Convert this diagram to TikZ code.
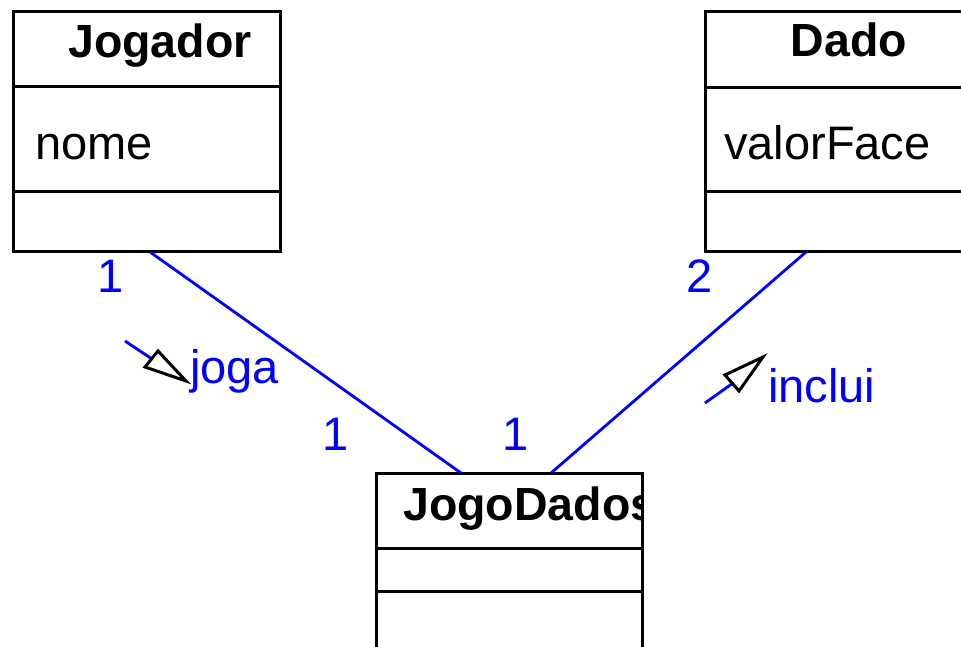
\documentclass[tikz,border=0pt]{standalone}
\usepackage{fontspec}
\setmainfont{Liberation Sans}
\begin{document}
\begin{tikzpicture}[x=1pt,y=-1pt,
  boxline/.style={line width=3pt,black},
  assoc/.style={line width=2.8pt,blue},
  tri/.style={line width=3pt,black,line join=miter,fill=white},
  txt/.style={inner sep=0pt,anchor=base west,font=\fontsize{47}{56}\selectfont},
  btxt/.style={inner sep=0pt,anchor=base,font=\fontsize{46.5}{56}\selectfont\bfseries},
  lbl/.style={txt,text=blue}]
\useasboundingbox (0,0) rectangle (961,647);
\fill[white] (0,0) rectangle (961,647);
% Jogador
\draw[boxline] (13,12) rectangle (280,251);
\draw[boxline] (13,87) -- (280,87);
\draw[boxline] (13,192) -- (280,192);
\node[btxt] (jogT) at (160,58) {Jogador};
\node[txt] (jogA) at (35,160) {nome};
% Dado
\draw[boxline] (965,12) -- (705,12) -- (705,251) -- (965,251);
\draw[boxline] (705,88) -- (965,88);
\draw[boxline] (705,192) -- (965,192);
\node[btxt] (dadoT) at (849,57) {Dado};
\node[txt] (dadoA) at (724,160) {valorFace};
% JogoDados
\draw[boxline] (376,660) -- (376,473) -- (642,473) -- (642,660);
\draw[boxline] (376,548) -- (642,548);
\draw[boxline] (376,591) -- (642,591);
\begin{scope}
\clip (378,475) rectangle (640,546);
\node[btxt,anchor=base west] (jdT) at (403,520) {JogoDados};
\end{scope}
% connection points
\coordinate (jogEnd) at (150,252);
\coordinate (jdL) at (461,473);
\coordinate (dadoEnd) at (806,252);
\coordinate (jdR) at (551,473);
\draw[assoc] (jogEnd) -- (jdL);
\draw[assoc] (dadoEnd) -- (jdR);
% multiplicities
\node[lbl] (m1) at (97,292) {1};
\node[lbl] (m2) at (322,450) {1};
\node[lbl] (m3) at (502,450) {1};
\node[lbl] (m4) at (686,292) {2};
% role names with direction arrows
\coordinate (ja1) at (125,341);
\coordinate (ja2) at (152,359);
\draw[assoc] (ja1) -- (ja2);
\draw[tri] (145,367) -- (158,351) -- (186,381) -- cycle;
\node[lbl] (joga) at (190,383) {joga};
\coordinate (ia1) at (705,403);
\coordinate (ia2) at (733,383);
\draw[assoc] (ia1) -- (ia2);
\draw[tri] (725,375) -- (739,391) -- (763,357) -- cycle;
\node[lbl] (inclui) at (768,402) {inclui};
\end{tikzpicture}
\end{document}
